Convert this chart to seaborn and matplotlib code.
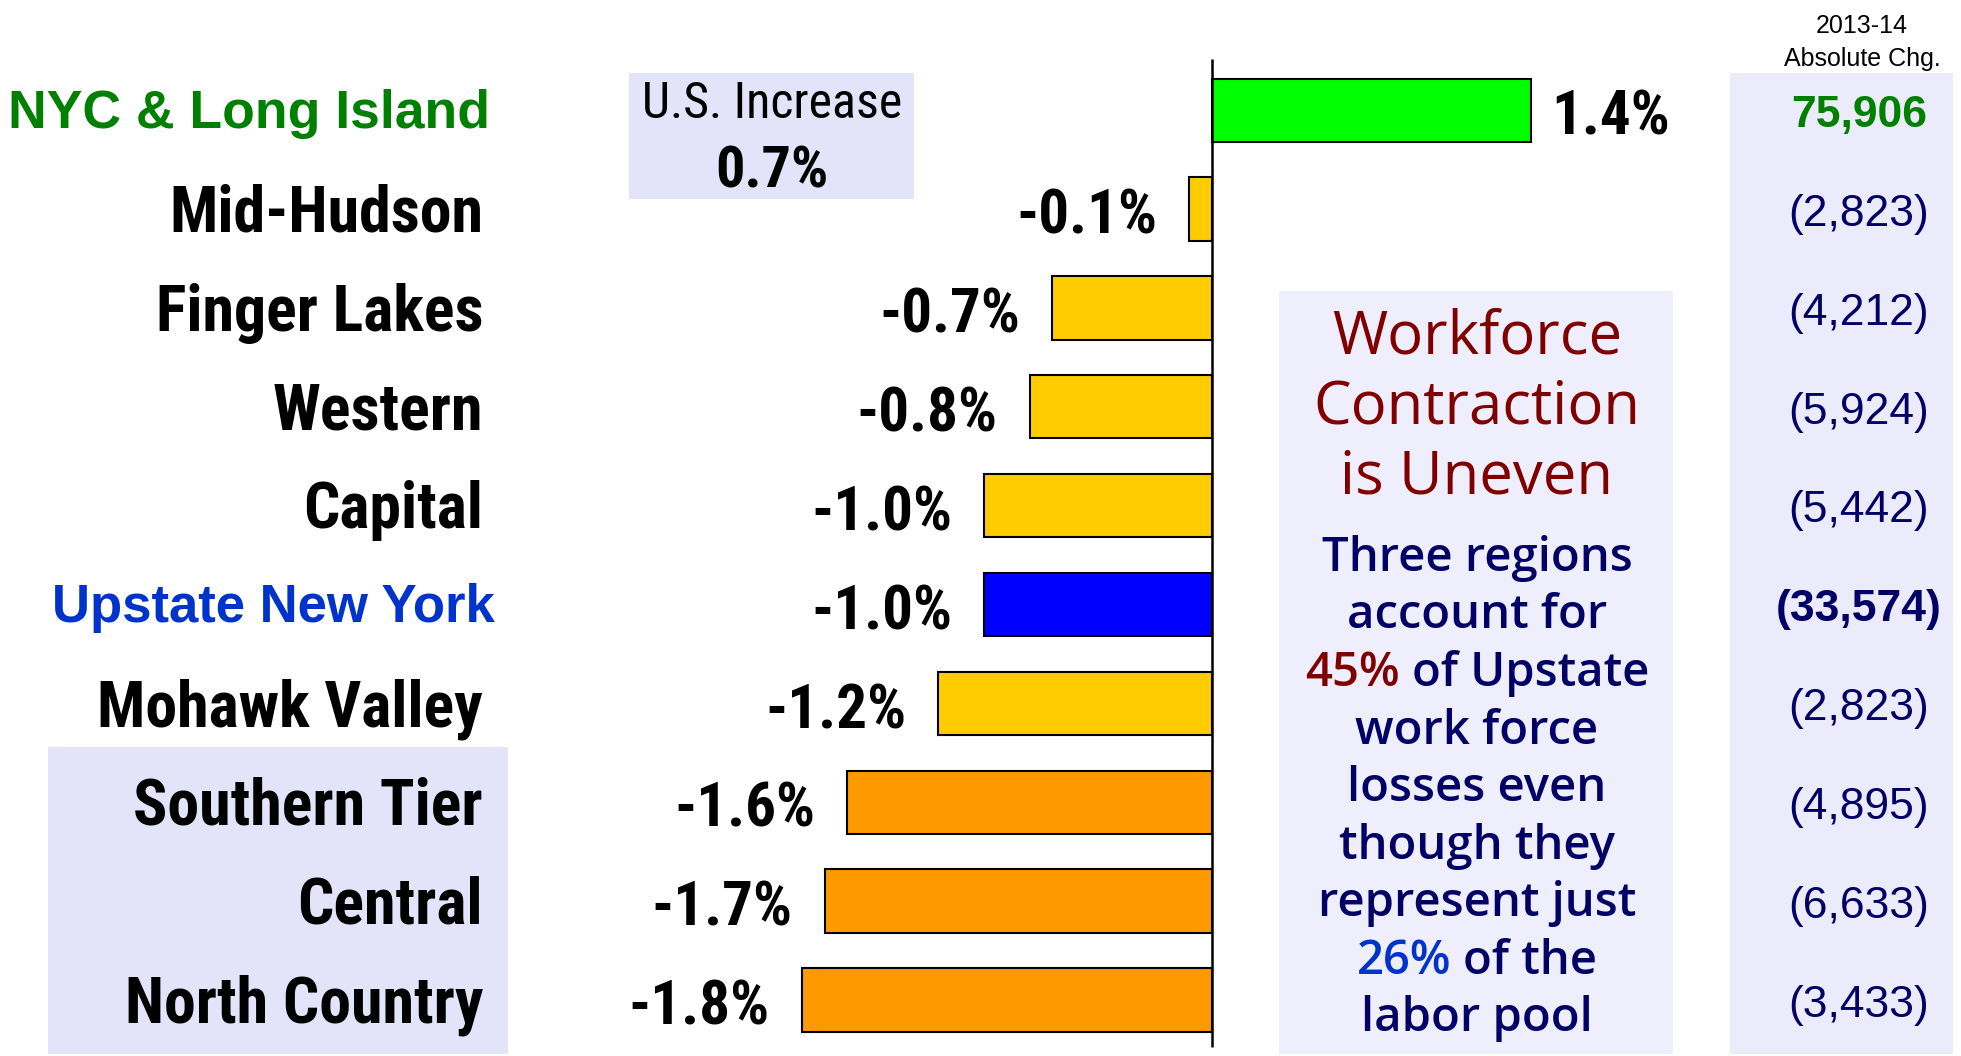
import matplotlib
matplotlib.use("Agg")
import matplotlib.pyplot as plt
from matplotlib.patches import Rectangle
import seaborn as sns
import pandas as pd

# ---- data ----
regions = ["NYC & Long Island", "Mid-Hudson", "Finger Lakes", "Western", "Capital",
           "Upstate New York", "Mohawk Valley", "Southern Tier", "Central", "North Country"]
pct_change = [1.4, -0.1, -0.7, -0.8, -1.0, -1.0, -1.2, -1.6, -1.7, -1.8]
abs_change = ["75,906", "(2,823)", "(4,212)", "(5,924)", "(5,442)",
              "(33,574)", "(2,823)", "(4,895)", "(6,633)", "(3,433)"]
bar_colors = ["#00FF00", "#FFCC00", "#FFCC00", "#FFCC00", "#FFCC00",
              "#0000FF", "#FFCC00", "#FF9900", "#FF9900", "#FF9900"]
us_label = "U.S. Increase"
us_increase = "0.7%"
header_lines = ["2013-14", "Absolute Chg."]
note_title = ["Workforce", "Contraction", "is Uneven"]

GREEN = "#008000"
BLUE = "#0033CC"
NAVY = "#000066"
DARKRED = "#800000"
note_body = [
    [("Three regions", NAVY)],
    [("account for", NAVY)],
    [("45%", DARKRED), ("of Upstate", NAVY)],
    [("work force", NAVY)],
    [("losses even", NAVY)],
    [("though they", NAVY)],
    [("represent just", NAVY)],
    [("26%", BLUE), ("of the", NAVY)],
    [("labor pool", NAVY)],
]
label_colors = {"NYC & Long Island": GREEN, "Upstate New York": BLUE}
label_right = {"NYC & Long Island": 490, "Upstate New York": 495}
label_size = {"NYC & Long Island": 38.5, "Upstate New York": 38}

# ---- style ----
sns.set_theme(style="white")
NARROW = ["Roboto Condensed", "PT Sans Narrow", "DejaVu Sans"]
SANS = ["Liberation Sans", "DejaVu Sans"]
ROUND = ["Open Sans", "Noto Sans", "DejaVu Sans"]
plt.rcParams["font.family"] = SANS

W, H = 1961, 1056
fig = plt.figure(figsize=(W / 100, H / 100), dpi=100)
ax = fig.add_axes([0, 0, 1, 1])


def fpos(x, y):
    # full-size pixel position -> axes fraction (axes fills the figure)
    return x / W, 1 - y / H


def bg_box(x0, y0, x1, y1, color):
    fx0, fy1 = fpos(x0, y0)
    fx1, fy0 = fpos(x1, y1)
    ax.add_patch(Rectangle((fx0, fy0), fx1 - fx0, fy1 - fy0, transform=ax.transAxes,
                           facecolor=color, edgecolor="none", zorder=0))


df = pd.DataFrame({"Region": regions, "Change": pct_change})
sns.barplot(data=df, x="Change", y="Region", hue="Region",
            palette=dict(zip(regions, bar_colors)), saturation=1, orient="h", width=0.64,
            edgecolor="black", linewidth=1.5, errorbar=None, legend=False, ax=ax)

ax.set_xlim(-5.320, 3.289)
ax.set_ylim(9.567, -1.114)
ax.axis("off")
ax.vlines(0, -0.517, 9.48, color="black", linewidth=1.8, zorder=3)

# background panels
bg_box(48, 747, 508, 1054, "#E3E3FA")
bg_box(629, 73, 914, 199, "#E3E3FA")
bg_box(1279, 291, 1673, 1054, "#EEEEFC")
bg_box(1730, 73, 1953, 1054, "#EBEBFB")

ytr = ax.get_yaxis_transform()
for i, (name, v, ac) in enumerate(zip(regions, pct_change, abs_change)):
    if name in label_colors:
        ax.text(label_right[name] / W, i + 0.18, name, transform=ytr, ha="right",
                va="baseline", fontsize=label_size[name], fontweight="bold",
                color=label_colors[name], family=SANS)
    else:
        ax.text(483 / W, i + 0.23, name, transform=ytr, ha="right", va="baseline",
                fontsize=46, fontweight="bold", color="black", family=NARROW)
    off = -23 if v < 0 else 15
    ax.annotate(f"{v:.1f}%", xy=(v, i + 0.25), xytext=(off, 0), textcoords="offset points",
                ha="right" if v < 0 else "left", va="baseline",
                fontsize=44, fontweight="bold", color="black", family=NARROW)
    bold = i == 0 or name == "Upstate New York"
    ax.text(1859 / W, i + 0.17, ac, transform=ytr, ha="center", va="baseline",
            fontsize=32, fontweight="bold" if bold else "normal",
            color=GREEN if i == 0 else NAVY, family=SANS)

# header of right column
for y, s in zip([33, 66], header_lines):
    ax.text(*fpos(1862, y), s, transform=ax.transAxes, ha="center", va="baseline",
            fontsize=18, color="black", family=SANS)

# U.S. increase box
ax.text(*fpos(772, 118), us_label, transform=ax.transAxes, ha="center", va="baseline",
        fontsize=36, color="black", family=NARROW)
ax.text(*fpos(772, 188), us_increase, transform=ax.transAxes, ha="center", va="baseline",
        fontsize=42, fontweight="bold", color="black", family=NARROW)

# note box
cx = 1477
for k, s in enumerate(note_title):
    ax.text(*fpos(cx, 354 + 70 * k), s, transform=ax.transAxes, ha="center", va="baseline",
            fontsize=43, color=DARKRED, family=ROUND)

renderer = fig.canvas.get_renderer()
body_kw = dict(fontsize=34, fontweight=600, family=ROUND, va="baseline",
               transform=ax.transAxes)
for k, parts in enumerate(note_body):
    x, y = fpos(cx, 571 + 57.5 * k)
    if len(parts) == 1:
        ax.text(x, y, parts[0][0], ha="center", color=parts[0][1], **body_kw)
        continue
    full = " ".join(p[0] for p in parts)
    probe = ax.text(x, y, full, ha="center", alpha=0, **body_kw)
    bb = probe.get_window_extent(renderer)
    ax.text(bb.x0 / W, y, parts[0][0], ha="left", color=parts[0][1], **body_kw)
    ax.text(bb.x1 / W, y, parts[1][0], ha="right", color=parts[1][1], **body_kw)

fig.savefig("out.png", dpi=100)
